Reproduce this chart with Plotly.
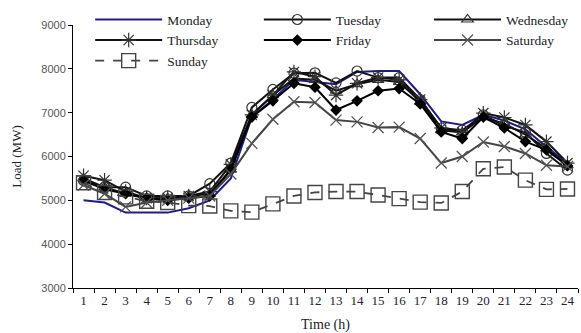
import plotly.graph_objects as go

hours = [str(h) for h in range(1, 25)]

monday    = [5000, 4950, 4720, 4720, 4720, 4820, 5000, 5500, 6900, 7300, 7750, 7700, 7650, 7930, 7950, 7950, 7420, 6800, 6720, 6950, 6820, 6620, 6220, 5850]
tuesday   = [5450, 5300, 5300, 5100, 5100, 5100, 5380, 5850, 7120, 7530, 7900, 7910, 7680, 7950, 7800, 7800, 7300, 6650, 6600, 6950, 6700, 6550, 6070, 5690]
wednesday = [5500, 5300, 5150, 5050, 5050, 5100, 5150, 5700, 6950, 7400, 7780, 7750, 7500, 7650, 7750, 7700, 7250, 6600, 6550, 6900, 6750, 6500, 6180, 5800]
thursday  = [5560, 5460, 5200, 5050, 5050, 5100, 5200, 5820, 6950, 7400, 7930, 7820, 7400, 7670, 7800, 7750, 7300, 6650, 6550, 6990, 6890, 6720, 6340, 5850]
friday    = [5450, 5250, 5150, 5050, 5000, 5050, 5100, 5700, 6900, 7270, 7670, 7580, 7060, 7270, 7500, 7550, 7200, 6560, 6410, 6900, 6650, 6340, 6150, 5790]
saturday  = [5350, 5150, 4850, 4950, 5000, 5050, 5100, 5600, 6300, 6850, 7250, 7230, 6830, 6790, 6660, 6670, 6410, 5850, 6000, 6330, 6230, 6070, 5800, 5770]
sunday    = [5400, 5180, 5080, 4980, 4950, 4880, 4870, 4760, 4730, 4920, 5100, 5180, 5200, 5200, 5120, 5040, 4960, 4940, 5200, 5720, 5760, 5460, 5250, 5260]

y_ticks = [3000, 4000, 5000, 6000, 7000, 8000, 9000]

serif = "Liberation Serif"

series = [
    ("Monday", monday, "legend", dict(color="#1c1c8a", width=2), dict(size=1, opacity=0), "lines"),
    ("Tuesday", tuesday, "legend2", dict(color="#111111", width=2),
     dict(symbol="circle-open", size=10, color="#333333", line=dict(width=1.2)), "lines+markers"),
    ("Wednesday", wednesday, "legend3", dict(color="#111111", width=2),
     dict(symbol="triangle-up-open", size=10, color="#333333", line=dict(width=1.2)), "lines+markers"),
    ("Thursday", thursday, "legend", dict(color="#111111", width=2),
     dict(symbol="asterisk-open", size=12, color="#333333", line=dict(width=1.2)), "lines+markers"),
    ("Friday", friday, "legend2", dict(color="#000000", width=2),
     dict(symbol="diamond", size=9, color="#000000"), "lines+markers"),
    ("Saturday", saturday, "legend3", dict(color="#444444", width=2),
     dict(symbol="x-thin-open", size=11, color="#555555", line=dict(width=1.3)), "lines+markers"),
    ("Sunday", sunday, "legend", dict(color="#444444", width=1.8, dash="dash"),
     dict(symbol="square-open", size=14, color="#444444", line=dict(width=1.4)), "lines+markers"),
]

fig = go.Figure()
for name, vals, leg, line, marker, mode in series:
    fig.add_trace(go.Scatter(x=hours, y=vals, name=name, mode=mode, line=line,
                             marker=marker, legend=leg))

def legend_style(xpos):
    return dict(
        orientation="v", x=xpos, y=1.079, xanchor="left", yanchor="top",
        itemwidth=67, font=dict(family=serif, size=13.5, color="#222222"),
        bgcolor="rgba(0,0,0,0)", borderwidth=0, tracegroupgap=0,
    )

fig.update_layout(
    template="none",
    width=581, height=333,
    margin=dict(l=73, r=3, t=25, b=45, pad=0, autoexpand=False),
    paper_bgcolor="white", plot_bgcolor="white",
    showlegend=True,
    legend=legend_style(0.034),
    legend2=legend_style(0.368),
    legend3=legend_style(0.705),
    xaxis=dict(
        type="category", tickson="boundaries", range=[-0.5, 23.5],
        showline=True, linecolor="black", linewidth=1,
        ticks="outside", ticklen=4, tickcolor="black", showgrid=False, zeroline=False,
        tickangle=0, automargin=False,
        tickfont=dict(family=serif, size=13, color="#222233"),
        title=dict(text="Time (h)", font=dict(family=serif, size=14, color="#222222"), standoff=12),
    ),
    yaxis=dict(
        range=[3000, 9000], tickvals=y_ticks, showline=True, linecolor="black", linewidth=1,
        ticks="outside", ticklen=4, tickcolor="black", showgrid=False, zeroline=False,
        automargin=False,
        tickfont=dict(family="Liberation Sans", size=11, color="#555555"),
        title=dict(text="Load (MW)", font=dict(family=serif, size=13, color="#222222"), standoff=16),
    ),
)

fig.write_html("out.html", config={"displayModeBar": False},
               post_script="document.body.style.margin='0px';")
